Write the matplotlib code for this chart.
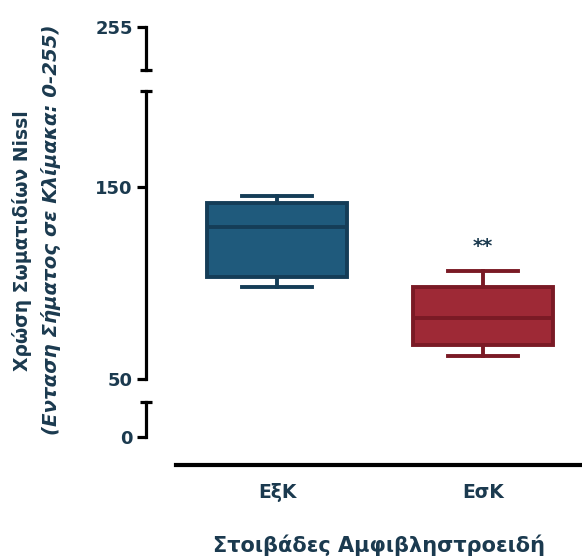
import matplotlib.pyplot as plt

# Δεδομένα (εκτίμηση από την εικόνα)
categories = ['ΕξΚ', 'ΕσΚ']
whisker_low = [97.8, 62.0]
q1 = [103.0, 67.7]
median = [129.3, 81.6]
q3 = [141.8, 98.1]
whisker_high = [145.3, 106.2]
fill_colors = ['#1f5a7c', '#9e2936']
edge_colors = ['#153d57', '#7a1a25']
star_label = '**'
star_y = 119

text_color = '#1b3a4f'
plt.rcParams['font.family'] = ['DejaVu Sans']
plt.rcParams['font.weight'] = 'bold'

W, H = 582, 558
fig = plt.figure(figsize=(W / 100, H / 100), dpi=100)


def make_axes(top_px, bot_px, ylim):
    ax = fig.add_axes([146 / W, 1 - bot_px / H, 436 / W, (bot_px - top_px) / H])
    ax.set_xlim(-0.636, 1.48)
    ax.set_ylim(*ylim)
    for s in ['top', 'right', 'bottom']:
        ax.spines[s].set_visible(False)
    ax.spines['left'].set_linewidth(2.3)
    ax.set_xticks([])
    ax.tick_params(axis='y', which='major', direction='out', length=6.5, width=2.3,
                   labelsize=13, labelcolor=text_color, pad=3)
    ax.tick_params(axis='y', which='minor', direction='inout', length=8, width=2.3)
    ax.patch.set_alpha(0)
    return ax


ax_top = make_axes(27, 70, (233, 255))
ax_mid = make_axes(91, 379, (50, 200))
ax_bot = make_axes(402, 437, (0, 18))

ax_top.set_yticks([255])
ax_top.set_yticks([233], minor=True)
ax_mid.set_yticks([150, 50])
ax_mid.set_yticks([200], minor=True)
ax_bot.set_yticks([0])
ax_bot.set_yticks([18], minor=True)

# κουτιά
stats = []
for i in range(len(categories)):
    stats.append({'med': median[i], 'q1': q1[i], 'q3': q3[i],
                  'whislo': whisker_low[i], 'whishi': whisker_high[i], 'fliers': []})
bp = ax_mid.bxp(stats, positions=[0, 1], widths=0.68, patch_artist=True,
                showfliers=False, manage_ticks=False)
for i in range(len(categories)):
    bp['boxes'][i].set_facecolor(fill_colors[i])
    bp['boxes'][i].set_edgecolor(edge_colors[i])
    bp['boxes'][i].set_linewidth(2.8)
    bp['medians'][i].set_color(edge_colors[i])
    bp['medians'][i].set_linewidth(2.8)
    for ln in bp['whiskers'][2 * i:2 * i + 2] + bp['caps'][2 * i:2 * i + 2]:
        ln.set_color(edge_colors[i])
        ln.set_linewidth(2.8)

ax_mid.text(1, star_y, star_label, ha='center', va='center', fontsize=14,
            fontweight='bold', color=text_color)

# άξονας x
ax_bot.spines['bottom'].set_visible(True)
ax_bot.spines['bottom'].set_position(('outward', 20))
ax_bot.spines['bottom'].set_linewidth(3)
ax_bot.spines['bottom'].set_bounds(-0.49, 1.48)
ax_bot.set_xticks([0, 1])
ax_bot.set_xticklabels(categories)
ax_bot.tick_params(axis='x', length=0, labelsize=13.5, labelcolor=text_color, pad=13)

fig.text(379 / W, 1 - 545 / H, 'Στοιβάδες Αμφιβληστροειδή', ha='center', va='center',
         fontsize=15, fontweight='bold', color=text_color)
fig.text(22 / W, 1 - 241 / H, 'Χρώση Σωματιδίων Nissl', ha='center', va='center',
         rotation=90, fontsize=13.5, fontweight='bold', color=text_color)
fig.text(51 / W, 1 - 230 / H, '(Ενταση Σήματος σε Κλίμακα: 0-255)', ha='center', va='center',
         rotation=90, fontsize=14.2, fontweight='bold', style='italic', color=text_color)

fig.savefig('out.png', dpi=100)
